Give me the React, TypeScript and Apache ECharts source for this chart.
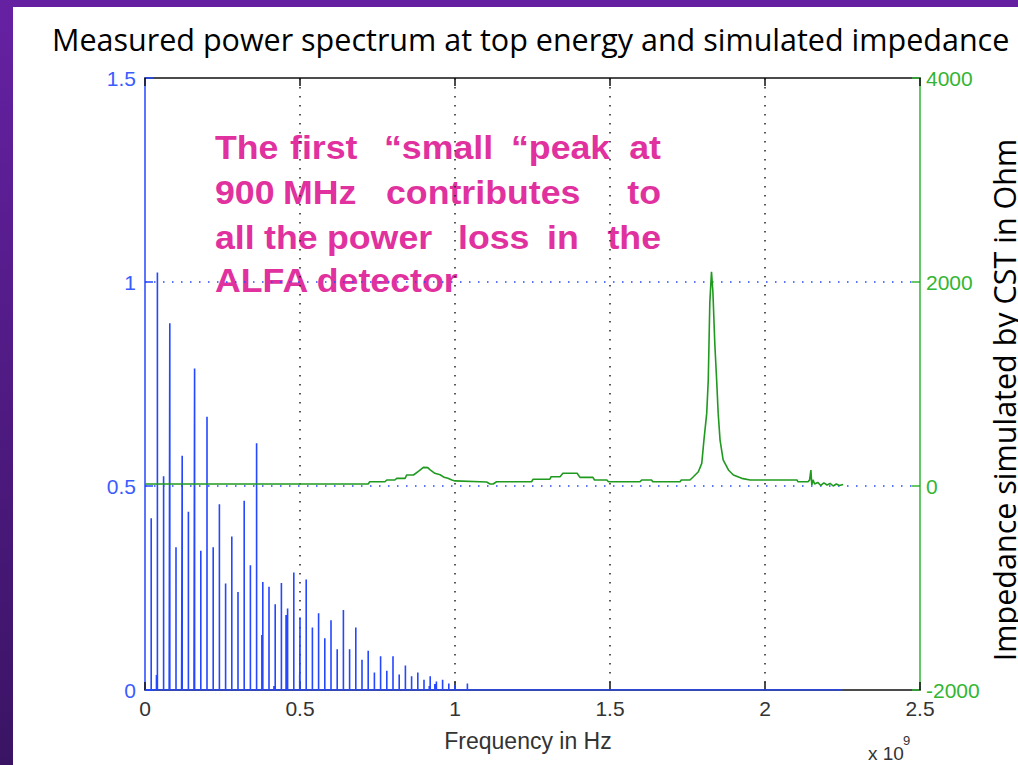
import React, { useEffect, useRef } from "react";
import * as echarts from "echarts";

// ---- Data (frequencies in GHz, axis shows Hz ×10^9) ----
const HARMONIC_FREQ_GHZ = [
  0.02, 0.04, 0.06, 0.08, 0.10, 0.12, 0.14, 0.16, 0.18, 0.20,
  0.22, 0.24, 0.26, 0.28, 0.30, 0.32, 0.34, 0.36, 0.38, 0.40,
  0.42, 0.44, 0.46, 0.48, 0.50, 0.52, 0.54, 0.56, 0.58, 0.60,
  0.62, 0.64, 0.66, 0.68, 0.70, 0.72, 0.74, 0.76, 0.78, 0.80,
  0.82, 0.84, 0.86, 0.88, 0.90, 0.92, 0.94, 0.96, 0.98, 1.00,
  1.02, 1.04,
];
const HARMONIC_POWER = [
  0.421, 1.023, 0.524, 0.899, 0.350, 0.574, 0.437, 0.788, 0.341, 0.670,
  0.350, 0.455, 0.261, 0.376, 0.240, 0.464, 0.306, 0.605, 0.265, 0.253,
  0.210, 0.262, 0.200, 0.288, 0.178, 0.271, 0.153, 0.188, 0.127, 0.171,
  0.100, 0.196, 0.100, 0.153, 0.074, 0.096, 0.043, 0.083, 0.047, 0.083,
  0.038, 0.060, 0.034, 0.043, 0.025, 0.034, 0.021, 0.025, 0.016, 0.012,
  0.0, 0.016,
];
const SIDE_FREQ_GHZ = [0.037, 0.078, 0.118, 0.158, 0.377, 0.416, 0.455, 0.499, 0.917, 0.935];
const SIDE_POWER = [0.037, 0.02, 0.01, 0.01, 0.135, 0.01, 0.184, 0.037, 0.01, 0.015];
const SPECTRUM_END_GHZ = 2.25;

const IMP_FREQ_GHZ = [
  0, 0.72, 0.725, 0.774, 0.78, 0.806, 0.812, 0.839, 0.844, 0.866, 0.885, 0.898, 0.912,
  0.919, 0.935, 0.952, 0.965, 0.977, 0.99, 1.0, 1.08, 1.102, 1.113, 1.123, 1.134,
  1.247, 1.252, 1.306, 1.31, 1.339, 1.348, 1.394, 1.403, 1.445, 1.45, 1.49, 1.495,
  1.597, 1.602, 1.634, 1.638, 1.726, 1.73, 1.758, 1.769, 1.785, 1.796, 1.803,
  1.812, 1.817, 1.822, 1.8274, 1.832, 1.838, 1.844, 1.849, 1.855, 1.865, 1.882,
  1.898, 1.925, 1.952, 2.103, 2.106, 2.139, 2.144, 2.148, 2.151, 2.155, 2.16,
  2.17, 2.18, 2.19, 2.20, 2.21, 2.22, 2.23, 2.24, 2.252,
];
const IMP_OHM = [
  20, 20, 42, 42, 59, 59, 75, 75, 108, 108, 150, 183, 180,
  160, 124, 110, 85, 75, 59, 50, 42, 39, 20, 20, 42,
  42, 66, 66, 91, 91, 125, 125, 85, 85, 59, 59, 42,
  42, 59, 59, 42, 42, 59, 59, 91, 140, 222, 450,
  712, 1040, 1800, 2100, 1900, 1400, 1040, 712, 450, 255, 157,
  108, 75, 59, 59, 42, 42, 60, 157, 10, 60, 20,
  35, 5, 30, 10, 25, 0, 20, 5, 15,
];

const X_TICK_LABELS = ["0", "0.5", "1", "1.5", "2", "2.5"];
const LEFT_TICK_LABELS = ["0", "0.5", "1", "1.5"];
const RIGHT_TICK_LABELS = ["-2000", "0", "2000", "4000"];

const TITLE = "Measured power spectrum at top energy and simulated impedance";
const RIGHT_LABEL = "Impedance simulated by CST in Ohm";
const X_NAME = "Frequency in Hz";
const NOTE_LINES: { words: string[]; xs: number[]; lastRight: boolean }[] = [
  { words: ["The", "first", "\u201Csmall", "\u201Cpeak", "at"], xs: [215, 290, 384, 511, 661], lastRight: true },
  { words: ["900", "MHz", "contributes", "to"], xs: [215, 283, 386, 661], lastRight: true },
  { words: ["all", "the", "power", "loss", "in", "the"], xs: [215, 264, 327, 458, 547, 661], lastRight: true },
  { words: ["ALFA detector"], xs: [215], lastRight: false },
];
const NOTE_Y = [147, 191.5, 236.5, 280];

const BLUE = "#2447ff";
const BLUE_TXT = "#3a5cff";
const GREEN = "#1f9a1f";
const GREEN_AX = "#33b533";
const PINK = "#e0319e";

export default function App() {
  const ref = useRef<HTMLDivElement>(null);
  useEffect(() => {
    if (!ref.current) return;
    const chart = echarts.init(ref.current, undefined, { renderer: "svg" });

    const stems: [number, number][] = [];
    HARMONIC_FREQ_GHZ.forEach((f, i) => stems.push([f, HARMONIC_POWER[i]]));
    SIDE_FREQ_GHZ.forEach((f, i) => stems.push([f, SIDE_POWER[i]]));
    stems.sort((a, b) => a[0] - b[0]);
    const stemData: [number, number][] = [[0, 0]];
    stems.forEach(([f, a]) => {
      stemData.push([f * 1e9, 0], [f * 1e9, a], [f * 1e9, 0]);
    });
    stemData.push([SPECTRUM_END_GHZ * 1e9, 0]);

    const impData = IMP_FREQ_GHZ.map((f, i) => [f * 1e9, IMP_OHM[i]]);

    const labelFont = { fontFamily: "Liberation Sans", fontSize: 21 };
    const noteFont = "bold 34px 'Liberation Sans'";

    const noteEls: any[] = [];
    NOTE_LINES.forEach((ln, li) => {
      ln.words.forEach((w, wi) => {
        const isLast = ln.lastRight && wi === ln.words.length - 1;
        noteEls.push({
          type: "text",
          x: ln.xs[wi],
          y: NOTE_Y[li],
          scaleX: 1.05,
          z: -1,
          style: {
            text: w,
            font: noteFont,
            fill: PINK,
            textAlign: isLast ? "right" : "left",
            textVerticalAlign: "middle",
            align: isLast ? "right" : "left",
            verticalAlign: "middle",
          },
        });
      });
    });

    const txt = (x: number, y: number, text: string, font: string, fill: string, align = "left", extra: any = {}) => ({
      type: "text",
      x,
      y,
      ...extra,
      style: { text, font, fill, textAlign: align, textVerticalAlign: "middle", align, verticalAlign: "middle" },
    });

    const option: any = {
      animation: false,
      backgroundColor: "#ffffff",
      grid: { left: 145, right: 98, top: 78, bottom: 75, containLabel: false, outerBoundsMode: "none" },
      xAxis: [
        {
          type: "value",
          position: "bottom",
          min: 0,
          max: 2.5e9,
          interval: 0.5e9,
          axisLine: { show: true, onZero: false, lineStyle: { color: "#111", width: 1.5 } },
          axisTick: { show: true, inside: true, length: 8, lineStyle: { color: "#111", width: 1.5 } },
          axisLabel: {
            ...labelFont,
            color: "#333",
            margin: 8,
            formatter: (v: number) => X_TICK_LABELS[Math.round(v / 0.5e9)] ?? "",
          },
          splitLine: {
            show: true,
            showMinLine: false,
            showMaxLine: false,
            lineStyle: { color: "#222", width: 1.5, type: [1.5, 7.5] },
          },
        },
        {
          type: "value",
          position: "top",
          min: 0,
          max: 2.5e9,
          interval: 0.5e9,
          axisLine: { show: true, onZero: false, lineStyle: { color: "#111", width: 1.5 } },
          axisTick: { show: true, inside: true, length: 8, lineStyle: { color: "#111", width: 1.5 } },
          axisLabel: { show: false },
          splitLine: { show: false },
        },
      ],
      yAxis: [
        {
          type: "value",
          position: "left",
          min: 0,
          max: 1.5,
          interval: 0.5,
          axisLine: { show: true, onZero: false, lineStyle: { color: BLUE, width: 1.5 } },
          axisTick: { show: true, inside: true, length: 8, lineStyle: { color: BLUE, width: 1.5 } },
          axisLabel: {
            ...labelFont,
            color: BLUE_TXT,
            margin: 9,
            formatter: (v: number) => LEFT_TICK_LABELS[Math.round(v / 0.5)] ?? "",
          },
          splitLine: {
            show: true,
            showMinLine: false,
            showMaxLine: false,
            lineStyle: { color: BLUE, width: 1.5, type: [1.5, 7.5] },
          },
        },
        {
          type: "value",
          position: "right",
          min: -2000,
          max: 4000,
          interval: 2000,
          axisLine: { show: true, onZero: false, lineStyle: { color: GREEN_AX, width: 1.5 } },
          axisTick: { show: true, inside: true, length: 8, lineStyle: { color: GREEN_AX, width: 1.5 } },
          axisLabel: {
            ...labelFont,
            color: GREEN_AX,
            margin: 6,
            formatter: (v: number) => RIGHT_TICK_LABELS[Math.round((v + 2000) / 2000)] ?? "",
          },
          splitLine: { show: false },
        },
      ],
      series: [
        {
          type: "line",
          xAxisIndex: 0,
          yAxisIndex: 0,
          data: stemData,
          showSymbol: false,
          symbol: "none",
          lineStyle: { color: BLUE, width: 1.6 },
          z: 2,
        },
        {
          type: "line",
          xAxisIndex: 0,
          yAxisIndex: 1,
          data: impData,
          showSymbol: false,
          symbol: "none",
          lineStyle: { color: GREEN, width: 1.6 },
          z: 3,
        },
      ],
      graphic: [
        { type: "rect", shape: { x: 0, y: 0, width: 1018, height: 7 }, style: { fill: "#6420a0" }, z: 10 },
        {
          type: "rect",
          shape: { x: 0, y: 0, width: 13, height: 765 },
          style: {
            fill: new echarts.graphic.LinearGradient(0, 0, 0, 1, [
              { offset: 0, color: "#6621a3" },
              { offset: 1, color: "#3a1464" },
            ]),
          },
          z: 10,
        },
        txt(52, 39, TITLE, "30.5px 'Open Sans'", "#000"),
        ...noteEls,
        txt(528, 741, X_NAME, "23px 'Liberation Sans'", "#333", "center"),
        txt(868, 753, "x 10", "19px 'Liberation Sans'", "#333"),
        txt(903, 740, "9", "13px 'Liberation Sans'", "#333"),
        txt(1004, 400, RIGHT_LABEL, "30.5px 'Open Sans'", "#000", "center", { rotation: Math.PI / 2 }),
      ],
    };
    chart.setOption(option);
    return () => chart.dispose();
  }, []);
  return (
    <div
      ref={ref}
      style={{ position: "fixed", left: 0, top: 0, width: 1018, height: 765, background: "#fff" }}
    />
  );
}
